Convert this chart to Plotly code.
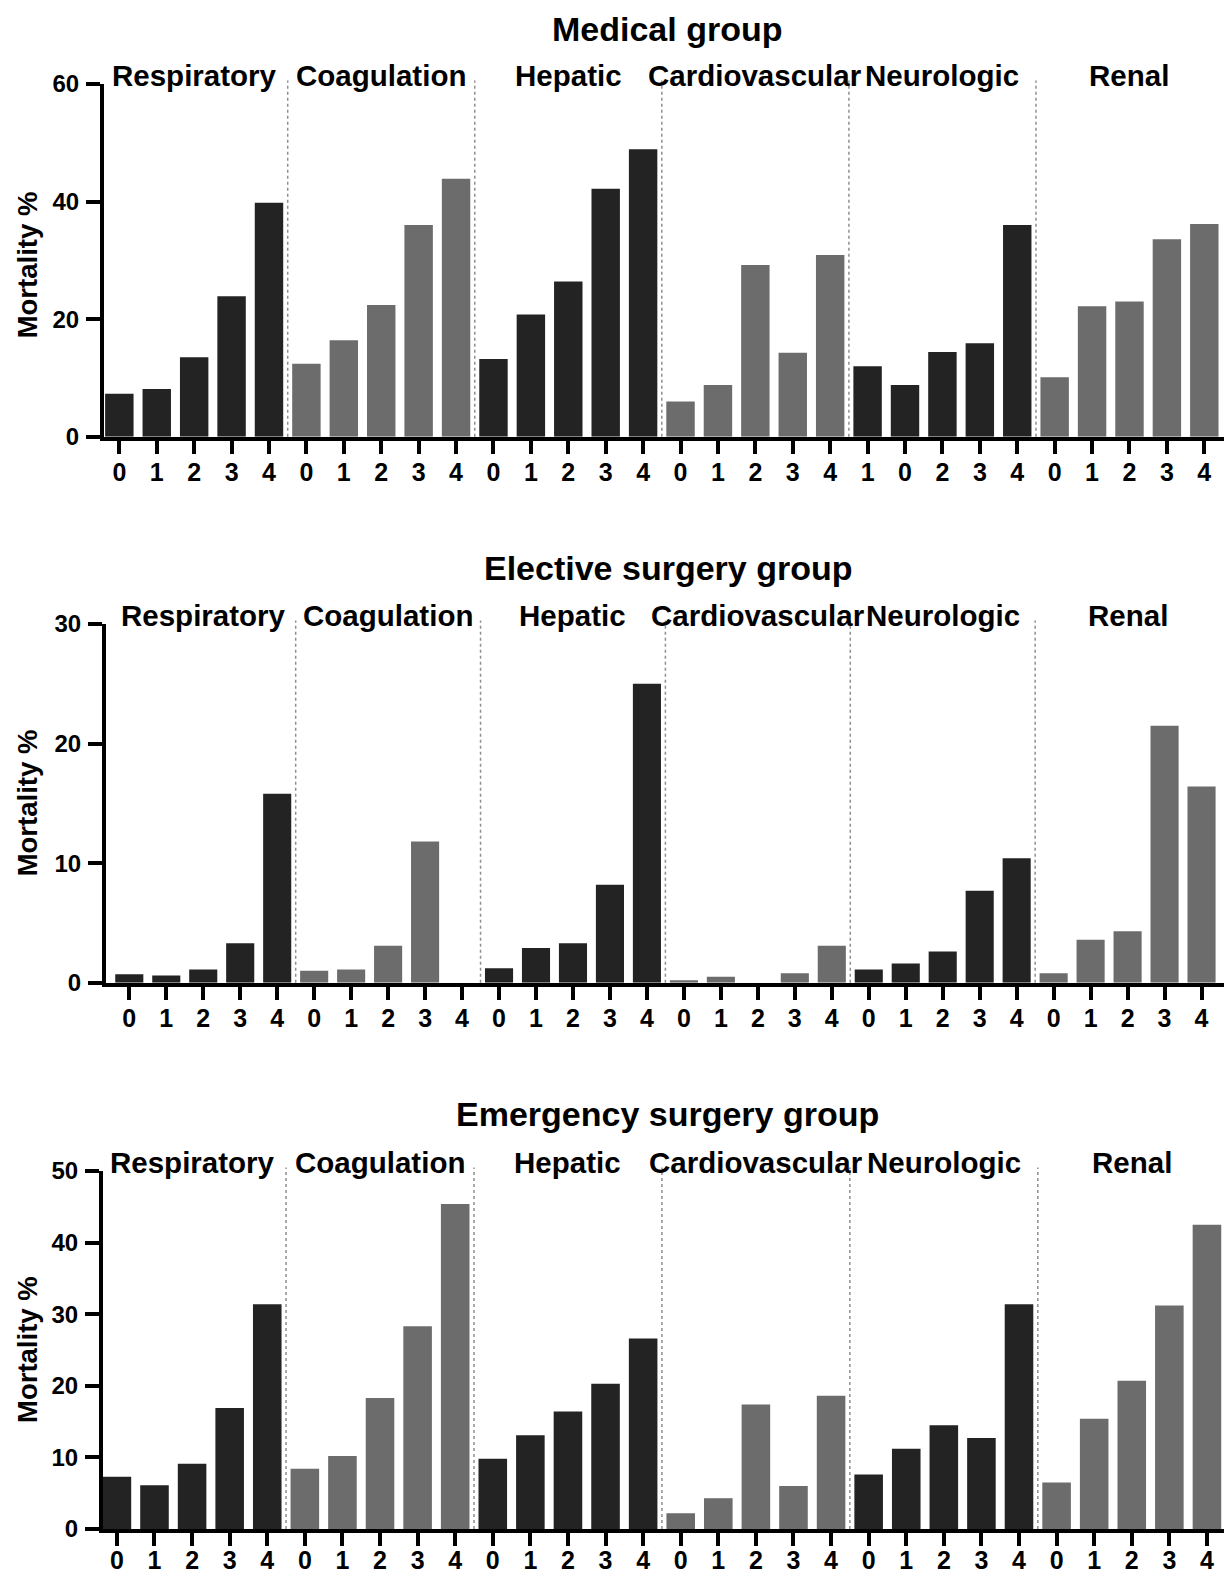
import plotly.graph_objects as go

# page body has an 8px default margin; keep figure inside the 1232x1577 window
OFF = 8
W, H = 1232 - OFF, 1577 - OFF

groups = ["Respiratory", "Coagulation", "Hepatic", "Cardiovascular", "Neurologic", "Renal"]
panel_titles = ["Medical group", "Elective surgery group", "Emergency surgery group"]

# Medical group
medical = {
    "Respiratory":    [7.3, 8.1, 13.5, 23.9, 39.8],
    "Coagulation":    [12.4, 16.4, 22.4, 36.0, 43.9],
    "Hepatic":        [13.2, 20.8, 26.4, 42.2, 48.9],
    "Cardiovascular": [6.0, 8.8, 29.2, 14.3, 30.9],
    "Neurologic":     [12.0, 8.8, 14.4, 15.9, 36.0],
    "Renal":          [10.1, 22.2, 23.0, 33.6, 36.2],
}
# Elective surgery group
elective = {
    "Respiratory":    [0.7, 0.6, 1.1, 3.3, 15.8],
    "Coagulation":    [1.0, 1.1, 3.1, 11.8, 0.0],
    "Hepatic":        [1.2, 2.9, 3.3, 8.2, 25.0],
    "Cardiovascular": [0.2, 0.5, 0.0, 0.8, 3.1],
    "Neurologic":     [1.1, 1.6, 2.6, 7.7, 10.4],
    "Renal":          [0.8, 3.6, 4.3, 21.5, 16.4],
}
# Emergency surgery group
emergency = {
    "Respiratory":    [7.3, 6.1, 9.1, 16.9, 31.4],
    "Coagulation":    [8.4, 10.2, 18.3, 28.3, 45.4],
    "Hepatic":        [9.8, 13.1, 16.4, 20.3, 26.6],
    "Cardiovascular": [2.2, 4.3, 17.4, 6.0, 18.6],
    "Neurologic":     [7.6, 11.2, 14.5, 12.7, 31.4],
    "Renal":          [6.5, 15.4, 20.7, 31.2, 42.5],
}

score_labels_default = ["0", "1", "2", "3", "4"]
medical_tick_labels = {"Neurologic": ["1", "0", "2", "3", "4"]}

y_max = [60, 30, 50]
y_dtick = [20, 10, 10]

panels = [medical, elective, emergency]
tick_overrides = [medical_tick_labels, {}, {}]

DARK = "#232323"
GRAY = "#6c6c6c"
group_colors = [DARK, GRAY, DARK, GRAY, DARK, GRAY]

# layout geometry (window pixels)
x_dom_px = [(104, 1229), (106, 1230), (103, 1231)]
y_dom_px = [(84, 436.7), (624, 982.7), (1171, 1529)]
x_ranges = [(-0.41, 29.66), (-0.63, 29.77), (-0.37, 29.64)]
title_y_px = [29, 568, 1114]
x_label_standoff = [-3, -3, -7]
ytitle_shift = [-5, 0, 0]


def fx(px):
    return (px - OFF) / W


def fy(px):
    return 1 - (px - OFF) / H


FONT = "Liberation Sans, Arial, sans-serif"

fig = go.Figure()
layout = dict(
    width=W, height=H, autosize=False,
    margin=dict(l=0, r=0, t=0, b=0, pad=0),
    paper_bgcolor="white", plot_bgcolor="white",
    showlegend=False,
    font=dict(family=FONT, color="black"),
)
annotations = []
shapes = []

for p, data in enumerate(panels):
    n = p + 1
    xa = "x" if n == 1 else f"x{n}"
    ya = "y" if n == 1 else f"y{n}"
    tickvals, ticktext = [], []
    for g, name in enumerate(groups):
        vals = data[name]
        xs = [5 * g + k for k in range(len(vals))]
        fig.add_trace(go.Bar(
            x=xs, y=vals, xaxis=xa, yaxis=ya,
            marker=dict(color=group_colors[g], line=dict(width=0)),
            width=0.76, hoverinfo="x+y",
        ))
        labels = tick_overrides[p].get(name, score_labels_default)
        tickvals += xs
        ticktext += labels
        annotations.append(dict(
            x=5 * g + 2, y=1, xref=xa, yref=f"{ya} domain",
            text=name, showarrow=False, yanchor="middle", yshift=9,
            font=dict(size=29.5, family=FONT, color="black", weight="bold"),
        ))
        if g > 0:
            shapes.append(dict(
                type="line", xref=xa, yref=f"{ya} domain",
                x0=5 * g - 0.5, x1=5 * g - 0.5, y0=0, y1=1.01,
                line=dict(color="#8f8f8f", width=1.5, dash="dot"),
            ))

    x0, x1 = x_dom_px[p]
    yt, yb = y_dom_px[p]
    xkey = "xaxis" if n == 1 else f"xaxis{n}"
    ykey = "yaxis" if n == 1 else f"yaxis{n}"
    layout[xkey] = dict(
        domain=[fx(x0), fx(x1)], anchor=ya, range=list(x_ranges[p]),
        tickmode="array", tickvals=tickvals, ticktext=ticktext,
        showgrid=False, zeroline=False, showline=True, linecolor="black", linewidth=4,
        ticks="outside", ticklen=13, tickwidth=4, tickcolor="black",
        ticklabelstandoff=x_label_standoff[p], automargin=False,
        tickfont=dict(size=25, family=FONT, color="black", weight="bold"),
        fixedrange=True,
    )
    layout[ykey] = dict(
        domain=[fy(yb), fy(yt)], anchor=xa, range=[0, y_max[p]],
        tickmode="linear", tick0=0, dtick=y_dtick[p],
        showgrid=False, zeroline=False, showline=True, linecolor="black", linewidth=4,
        ticks="outside", ticklen=14, tickwidth=4, tickcolor="black",
        ticklabelstandoff=2, automargin=False,
        tickfont=dict(size=24, family=FONT, color="black", weight="bold"),
        fixedrange=True,
    )
    # panel title
    annotations.append(dict(
        x=0.5, y=fy(title_y_px[p]), xref=f"{xa} domain", yref="paper",
        text=panel_titles[p], showarrow=False, xanchor="center", yanchor="middle",
        font=dict(size=34, family=FONT, color="black", weight="bold"),
    ))
    # y-axis title
    annotations.append(dict(
        x=fx(27), y=0.5, xref="paper", yref=f"{ya} domain",
        text="Mortality %", showarrow=False, textangle=-90,
        xanchor="center", yanchor="middle", yshift=ytitle_shift[p],
        font=dict(size=27.5, family=FONT, color="black", weight="bold"),
    ))

layout["annotations"] = annotations
layout["shapes"] = shapes
fig.update_layout(**layout)
fig.write_html("out.html")
